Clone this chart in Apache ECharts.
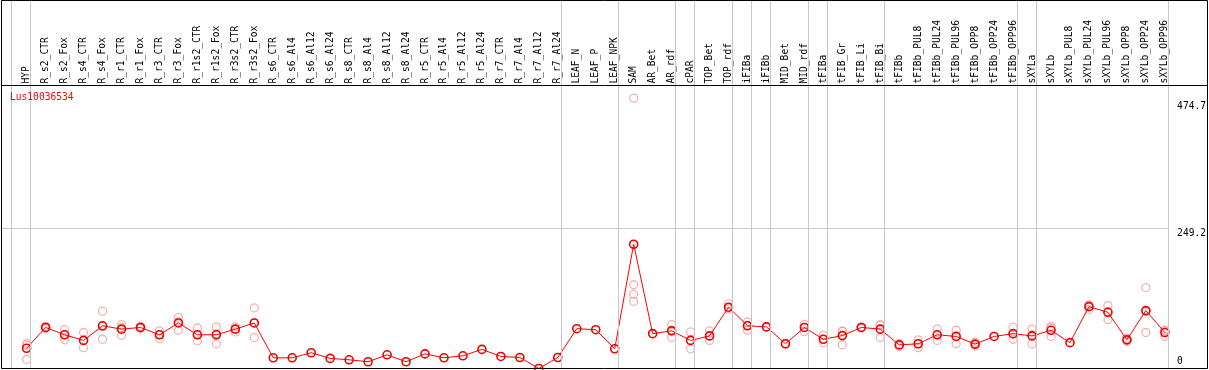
<!DOCTYPE html>
<html>
<head>
<meta charset="utf-8">
<script src="https://cdn.jsdelivr.net/npm/echarts@6/dist/echarts.min.js"></script>
<style>
  html, body { margin: 0; padding: 0; background: #fff; }
  #chart { width: 1209px; height: 370px; }
</style>
</head>
<body>
<div id="chart"></div>
<script>
const geneName = 'Lus10036534';

const categories = [
  'HYP','R_s2_CTR','R_s2_Fox','R_s4_CTR','R_s4_Fox','R_r1_CTR','R_r1_Fox','R_r3_CTR','R_r3_Fox',
  'R_r1s2_CTR','R_r1s2_Fox','R_r3s2_CTR','R_r3s2_Fox','R_s6_CTR','R_s6_Al4','R_s6_Al12','R_s6_Al24',
  'R_s8_CTR','R_s8_Al4','R_s8_Al12','R_s8_Al24','R_r5_CTR','R_r5_Al4','R_r5_Al12','R_r5_Al24',
  'R_r7_CTR','R_r7_Al4','R_r7_Al12','R_r7_Al24','LEAF_N','LEAF_P','LEAF_NPK','SAM','AR_Bet','AR_rdf',
  'cPAR','TOP_Bet','TOP_rdf','iFIBa','iFIBb','MID_Bet','MID_rdf','tFIBa','tFIB_Gr','tFIB_Li','tFIB_Bi',
  'tFIBb','tFIBb_PUL8','tFIBb_PUL24','tFIBb_PUL96','tFIBb_OPP8','tFIBb_OPP24','tFIBb_OPP96',
  'sXYLa','sXYLb','sXYLb_PUL8','sXYLb_PUL24','sXYLb_PUL96','sXYLb_OPP8','sXYLb_OPP24','sXYLb_OPP96'
];

const meanValues = [
  36, 73, 60, 50, 76, 70, 73, 60, 81,
  60, 60, 70, 81, 19, 19, 28, 18,
  15.5, 12, 24.4, 12, 26, 19, 22.6, 34,
  21.4, 19.6, 0, 19.6, 70.8, 69, 35, 221, 62, 67,
  50, 58, 109, 76, 74, 44, 73, 52, 58.5, 73, 70,
  42, 44, 60, 57, 43.4, 57, 62,
  58, 68, 46, 110, 100, 51, 103, 64
];

const replicateValues = [
  [44, 41, 16], [75, 71, 73], [69, 51, 60], [64, 37, 50], [102, 52, 75], [78, 59, 73], [75, 71, 73], [67, 53, 60], [91, 68, 83],
  [72, 49, 60], [74, 44, 62], [74, 65, 70], [108, 55, 81], [], [], [], [],
  [], [], [], [], [], [], [], [],
  [], [], [], [], [], [], [], [481, 149, 132, 119.5], [62], [78, 55, 68],
  [65, 35, 50], [67, 50, 58], [115, 106, 108], [83, 68, 77], [74], [44], [78.5, 66, 73], [59, 46, 52], [67, 42, 66], [74, 72], [77, 55, 78],
  [39, 44], [51, 37, 44], [70, 50, 60], [68, 44, 59], [47, 40, 43], [], [73, 52, 61],
  [70, 44, 60], [75, 57, 72], [], [113, 105, 112], [112, 87, 101], [48, 54, 51], [144, 64, 101], [68, 57, 67]
];

// index of the last category of each group (separator drawn just after it)
const groupEnds = [-1, 0, 28, 31, 34, 35, 37, 38, 39, 41, 42, 45, 52, 53, 60];

const yTickLabels = [249.2, 474.7];
const yZeroLabel = [0];

const meanData = meanValues.map((v, i) => [i, v]);
const repData = [];
replicateValues.forEach((reps, i) => reps.forEach(v => repData.push([i, v])));

const font = 'DejaVu Sans Mono';
const yMax = 655.5;

const chart = echarts.init(document.getElementById('chart'), null, { renderer: 'canvas' });
chart.setOption({
  animation: false,
  backgroundColor: '#fff',
  title: {
    text: geneName,
    left: 10, top: 92, padding: 0,
    textStyle: { color: '#ff0000', fontFamily: font, fontSize: 9.6, fontWeight: 'normal' }
  },
  grid: { left: 1.5, right: 38.5, top: 0, bottom: 1.5, containLabel: false },
  xAxis: {
    type: 'value',
    position: 'top',
    offset: -85.5,
    min: -1.326,
    max: 60.2,
    axisLine: { show: false },
    axisTick: { show: false },
    splitLine: { show: false },
    axisLabel: {
      customValues: categories.map((c, i) => i),
      formatter: v => categories[Math.round(v)] || '',
      rotate: 90,
      margin: 2,
      color: '#000',
      fontFamily: font,
      fontSize: 9.6,
      showMinLabel: true,
      showMaxLabel: true,
      hideOverlap: false
    }
  },
  yAxis: [
    {
      type: 'value', position: 'right', min: 0, max: yMax,
      axisLine: { show: false }, axisTick: { show: false }, splitLine: { show: false },
      axisLabel: {
        customValues: yTickLabels,
        formatter: v => v.toFixed(1),
        margin: 8.5, verticalAlign: 'top', color: '#000',
        fontFamily: font, fontSize: 9.6
      }
    },
    {
      type: 'value', position: 'right', min: 0, max: yMax,
      axisLine: { show: false }, axisTick: { show: false }, splitLine: { show: false },
      axisLabel: {
        customValues: yZeroLabel,
        formatter: v => String(v),
        margin: 8.5, verticalAlign: 'bottom', color: '#000',
        fontFamily: font, fontSize: 9.6, padding: [0, 0, 2, 0]
      }
    }
  ],
  graphic: [
    { type: 'line', shape: { x1: 1.5, y1: 85.5, x2: 1207.5, y2: 85.5 }, style: { stroke: '#000', lineWidth: 1 }, z: 10 },
    { type: 'rect', shape: { x: 1.5, y: 0.5, width: 1206, height: 368 }, style: { fill: 'none', stroke: '#000', lineWidth: 1 }, z: 10 }
  ],
  series: [
    {
      type: 'scatter',
      data: repData,
      symbol: 'circle',
      symbolSize: 8,
      itemStyle: { color: 'rgba(0,0,0,0)', borderColor: '#f0a0a0', borderWidth: 1.3 },
      z: 2,
      markLine: {
        silent: true, symbol: 'none', animation: false,
        label: { show: false },
        lineStyle: { color: '#c8c8c8', type: 'solid', width: 1 },
        data: [
          ...groupEnds.map(i => ({ xAxis: i + 0.2 })),
          { yAxis: 249.2 }
        ]
      }
    },
    {
      type: 'line',
      data: meanData,
      symbol: 'circle',
      symbolSize: 8,
      showAllSymbol: true,
      lineStyle: { color: '#ff0000', width: 1 },
      itemStyle: { color: 'rgba(0,0,0,0)', borderColor: '#ee0000', borderWidth: 1.6 },
      z: 3
    }
  ]
});
</script>
</body>
</html>
